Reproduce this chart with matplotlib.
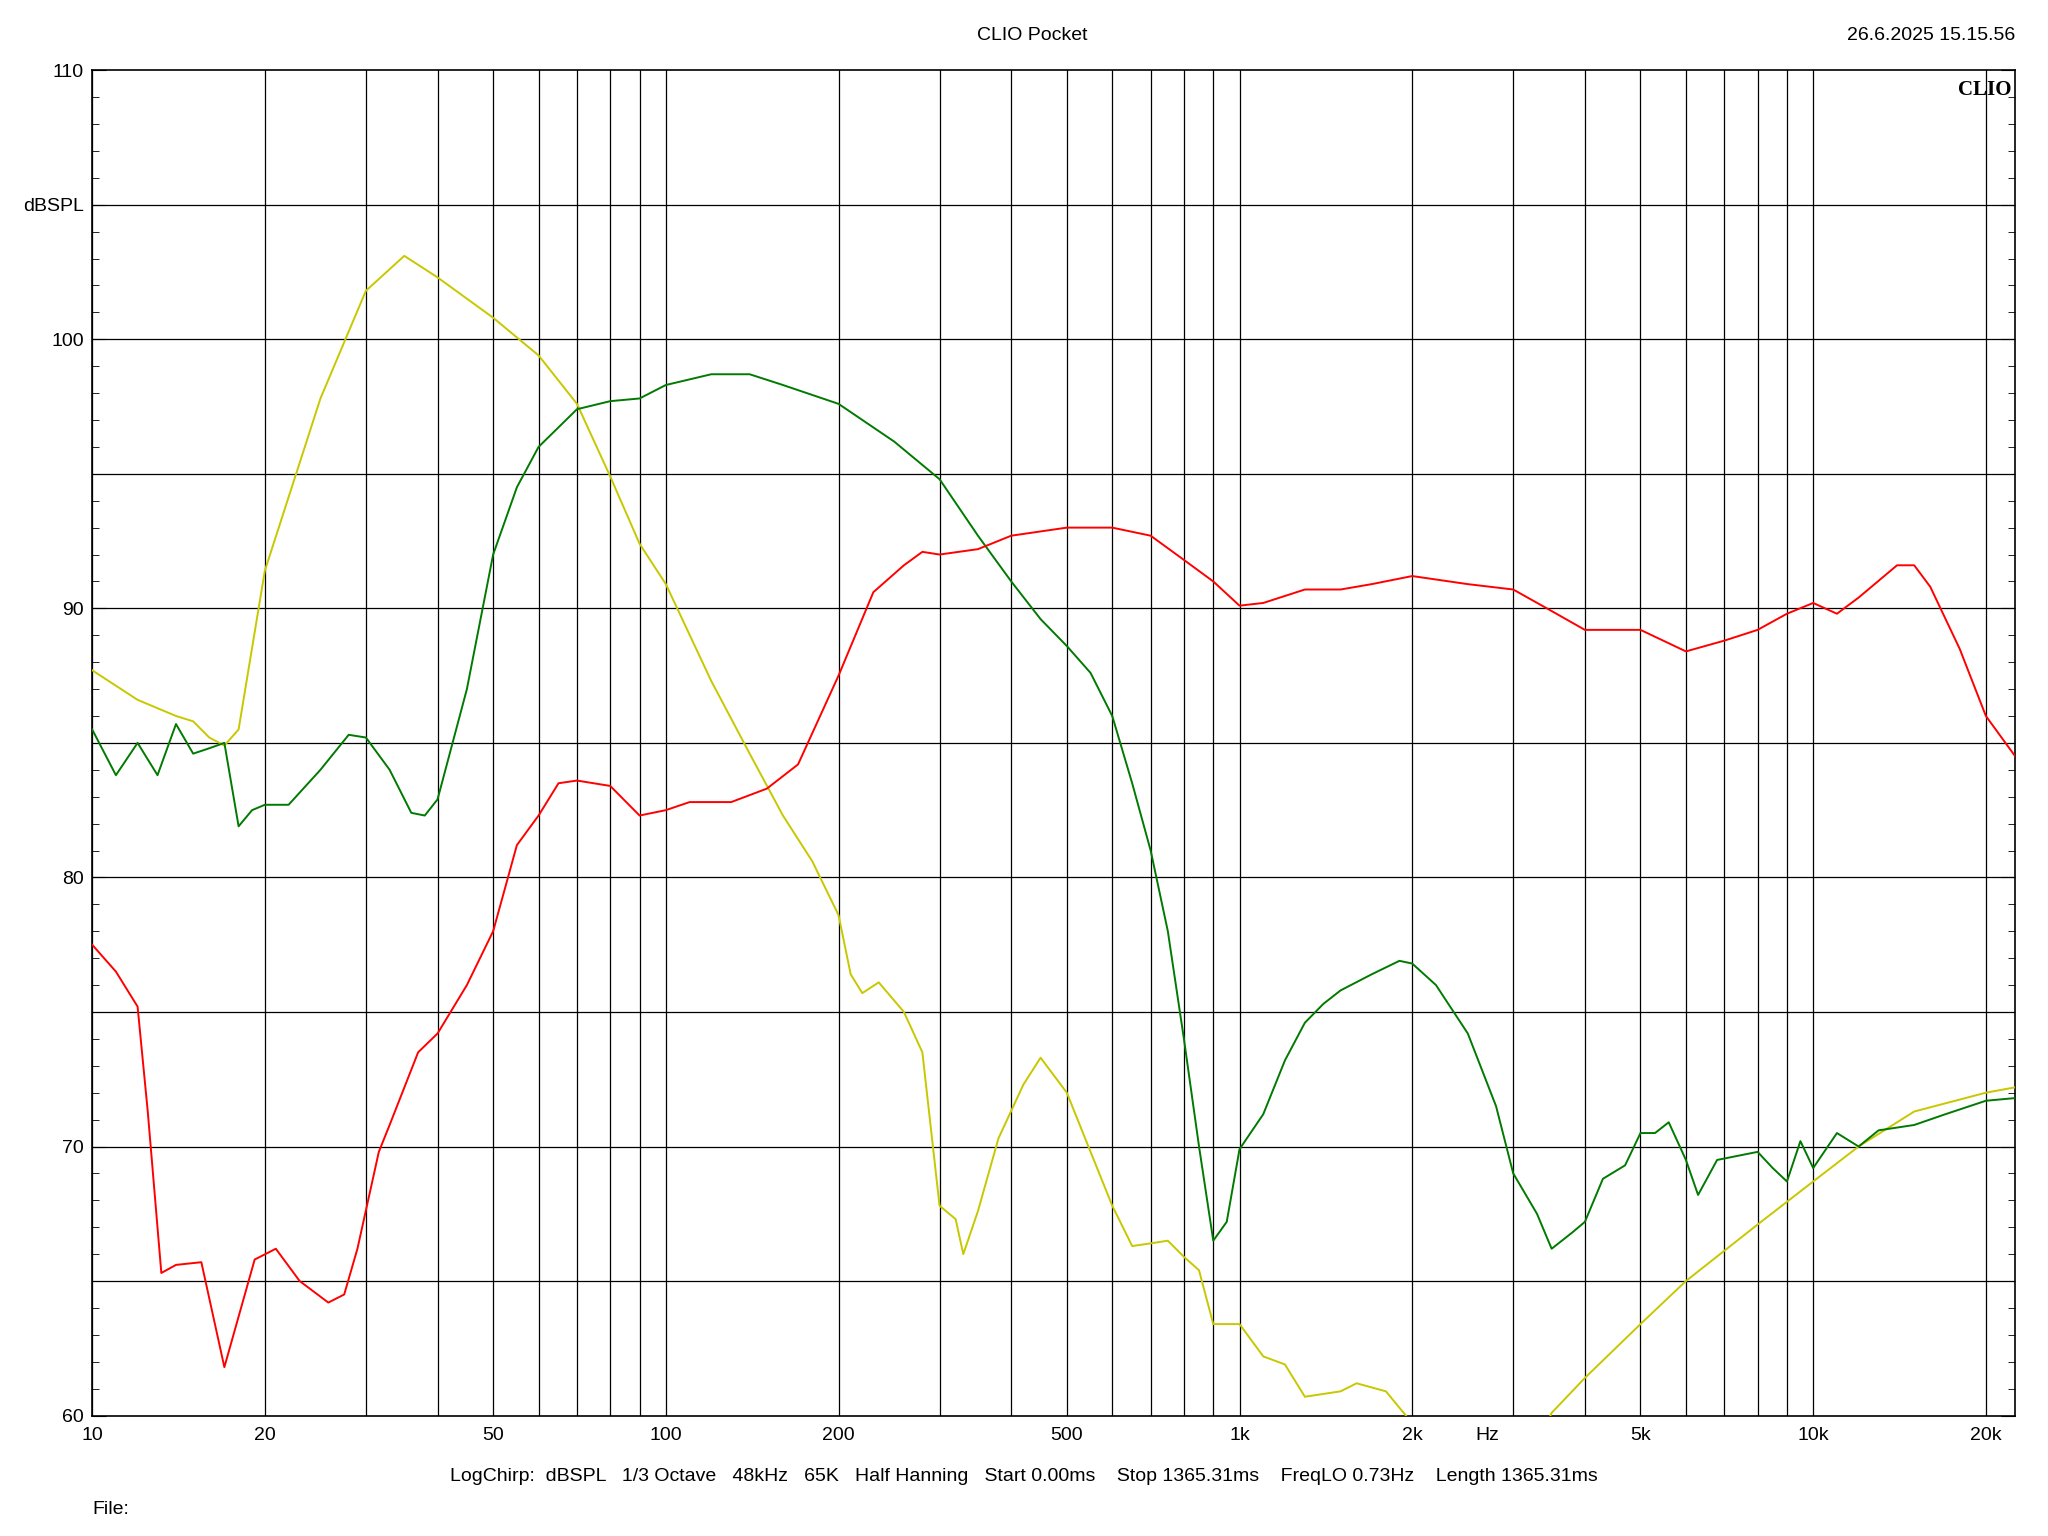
import numpy as np
import matplotlib.pyplot as plt
from matplotlib.ticker import FixedLocator, MultipleLocator, NullFormatter

plt.rcParams['font.family'] = ['Liberation Sans', 'DejaVu Sans']

# yellow trace
yel_f = [10, 12, 14, 15, 16, 17, 18, 20, 25, 30, 35, 40, 50, 60, 70, 80, 90, 100, 120, 140, 160, 180, 200,
         210, 220, 235, 260, 280, 300, 320, 330, 350, 380, 420, 450, 500, 550, 600, 650, 700, 750, 800,
         850, 900, 1000, 1100, 1200, 1300, 1500, 1600, 1800, 1950, 2100, 3000, 3400, 3500, 4000, 5000,
         6000, 8000, 10000, 12000, 15000, 20000, 22500]
yel_v = [87.7, 86.6, 86.0, 85.8, 85.2, 84.9, 85.5, 91.4, 97.8, 101.8, 103.1, 102.3, 100.8, 99.4, 97.6, 94.9,
         92.4, 90.9, 87.3, 84.6, 82.3, 80.6, 78.6, 76.4, 75.7, 76.1, 75.0, 73.5, 67.8, 67.3, 66.0, 67.6,
         70.3, 72.3, 73.3, 72.0, 69.8, 67.8, 66.3, 66.4, 66.5, 65.9, 65.4, 63.4, 63.4, 62.2, 61.9, 60.7,
         60.9, 61.2, 60.9, 60.0, 59.0, 57.0, 59.5, 60.1, 61.4, 63.4, 65.0, 67.1, 68.7, 70.0, 71.3, 72.0, 72.2]

# green trace
grn_f = [10, 11, 12, 13, 14, 15, 16, 17, 18, 19, 20, 22, 25, 28, 30, 33, 36, 38, 40, 45, 50, 55, 60, 70, 80,
         90, 100, 120, 140, 160, 200, 250, 300, 350, 400, 450, 500, 550, 600, 650, 700, 750, 800, 850, 900,
         950, 1000, 1100, 1200, 1300, 1400, 1500, 1700, 1900, 2000, 2200, 2500, 2800, 3000, 3300, 3500,
         3800, 4000, 4300, 4700, 5000, 5300, 5600, 6000, 6300, 6800, 8000, 8500, 9000, 9500, 10000, 11000,
         12000, 13000, 15000, 17000, 20000, 22500]
grn_v = [85.5, 83.8, 85.0, 83.8, 85.7, 84.6, 84.8, 85.0, 81.9, 82.5, 82.7, 82.7, 84.0, 85.3, 85.2, 84.0,
         82.4, 82.3, 82.9, 87.0, 92.0, 94.5, 96.0, 97.4, 97.7, 97.8, 98.3, 98.7, 98.7, 98.3, 97.6, 96.2,
         94.8, 92.7, 91.0, 89.6, 88.6, 87.6, 86.0, 83.5, 81.0, 78.0, 74.0, 70.0, 66.5, 67.2, 69.9, 71.2,
         73.2, 74.6, 75.3, 75.8, 76.4, 76.9, 76.8, 76.0, 74.2, 71.5, 69.0, 67.5, 66.2, 66.8, 67.2, 68.8,
         69.3, 70.5, 70.5, 70.9, 69.5, 68.2, 69.5, 69.8, 69.2, 68.7, 70.2, 69.2, 70.5, 70.0, 70.6, 70.8,
         71.2, 71.7, 71.8]

# red trace
red_f = [10, 11, 12, 12.5, 13.2, 14, 15.5, 17, 19.2, 20.9, 23, 25.8, 27.5, 29, 31.6, 33, 37, 40, 45, 50, 55,
         60, 65, 70, 80, 90, 100, 110, 130, 150, 170, 200, 230, 260, 280, 300, 350, 400, 500, 600, 700,
         800, 900, 1000, 1100, 1300, 1500, 1700, 2000, 2500, 3000, 3500, 4000, 4500, 5000, 6000, 7000,
         8000, 9000, 10000, 11000, 12000, 14000, 15000, 16000, 18000, 20000, 22500]
red_v = [77.5, 76.5, 75.2, 71.3, 65.3, 65.6, 65.7, 61.8, 65.8, 66.2, 65.0, 64.2, 64.5, 66.2, 69.8, 70.8,
         73.5, 74.2, 76.0, 78.0, 81.2, 82.3, 83.5, 83.6, 83.4, 82.3, 82.5, 82.8, 82.8, 83.3, 84.2, 87.5,
         90.6, 91.6, 92.1, 92.0, 92.2, 92.7, 93.0, 93.0, 92.7, 91.8, 91.0, 90.1, 90.2, 90.7, 90.7, 90.9,
         91.2, 90.9, 90.7, 89.9, 89.2, 89.2, 89.2, 88.4, 88.8, 89.2, 89.8, 90.2, 89.8, 90.4, 91.6, 91.6,
         90.8, 88.5, 86.0, 84.5]

x_grid = [10, 20, 30, 40, 50, 60, 70, 80, 90, 100, 200, 300, 400, 500, 600, 700, 800, 900,
          1000, 2000, 3000, 4000, 5000, 6000, 7000, 8000, 9000, 10000, 20000]
x_ticks = [10, 20, 50, 100, 200, 500, 1000, 2000, 2700, 5000, 10000, 20000]
x_labels = ['10', '20', '50', '100', '200', '500', '1k', '2k', 'Hz', '5k', '10k', '20k']
y_ticks = [60, 70, 80, 90, 100, 105, 110]
y_labels = ['60', '70', '80', '90', '100', 'dBSPL', '110']

fig = plt.figure(figsize=(20.48, 15.36), dpi=100)
ax = fig.add_axes([0.045, 0.0784, 0.939, 0.8759])
ax.set_xscale('log')
ax.set_xlim(10, 22500)
ax.set_ylim(60, 110)

for f in x_grid:
    ax.axvline(f, color='black', lw=0.9, zorder=1)
for v in range(65, 110, 5):
    ax.axhline(v, color='black', lw=0.9, zorder=1)

ax.plot(yel_f, yel_v, color='#c8c800', lw=1.4, zorder=3)
ax.plot(grn_f, grn_v, color='#007a00', lw=1.4, zorder=3)
ax.plot(red_f, red_v, color='#ff0000', lw=1.4, zorder=3)

ax.xaxis.set_major_locator(FixedLocator(x_ticks))
ax.xaxis.set_minor_locator(FixedLocator([]))
ax.set_xticklabels(x_labels, fontsize=14)
ax.tick_params(axis='x', length=0, pad=8)
ax.set_yticks(y_ticks)
ax.set_yticklabels(y_labels, fontsize=14)
ax.yaxis.set_minor_locator(MultipleLocator(1))
ax.yaxis.set_minor_formatter(NullFormatter())
ax.tick_params(axis='y', which='major', length=10, direction='in', left=True, right=True, pad=6)
ax.tick_params(axis='y', which='minor', length=5, direction='in', left=True, right=True)
for s in ax.spines.values():
    s.set_linewidth(1.2)

fig.text(0.504, 0.977, 'CLIO Pocket', ha='center', va='center', fontsize=14)
fig.text(0.984, 0.977, '26.6.2025 15.15.56', ha='right', va='center', fontsize=14)
ax.text(0.998, 0.993, 'CLIO', transform=ax.transAxes, ha='right', va='top',
        fontsize=15, fontweight='bold', family='Liberation Serif')
fig.text(0.5, 0.039, 'LogChirp:  dBSPL   1/3 Octave   48kHz   65K   Half Hanning   Start 0.00ms    '
         'Stop 1365.31ms    FreqLO 0.73Hz    Length 1365.31ms', ha='center', va='center', fontsize=14)
fig.text(0.045, 0.017, 'File:', ha='left', va='center', fontsize=14)

fig.savefig('out.png', dpi=100, facecolor='white')
